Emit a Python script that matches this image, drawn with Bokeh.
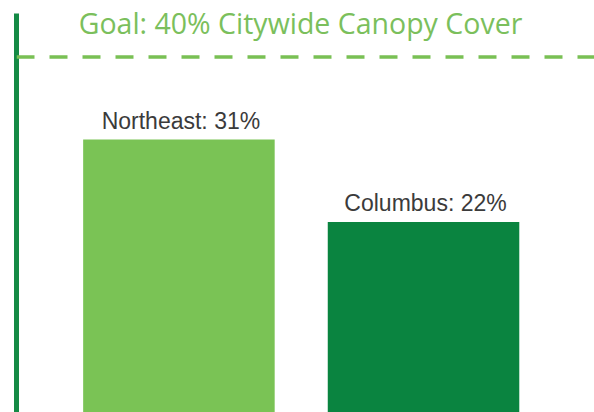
from bokeh.plotting import figure
from bokeh.models import Range1d, Span, Label, FixedTicker
from bokeh.core.properties import value
from bokeh.embed import file_html
from bokeh.resources import INLINE

# Data
areas = ["Northeast", "Columbus"]
canopy_pct = [31, 22]
bar_colors = ["#7ac355", "#0a8440"]
goal_pct = 40
goal_text = "Goal: 40% Citywide Canopy Cover"

positions = list(range(len(areas)))
labels = [f"{a}: {v}%" for a, v in zip(areas, canopy_pct)]

x_start, x_end = -0.664, 1.699

p = figure(width=594, height=412,
           x_range=Range1d(x_start, x_end), y_range=Range1d(1.2, 46.18),
           output_backend="svg", toolbar_location=None, min_border=0,
           min_border_left=16)
p.xaxis.visible = False
p.grid.visible = False
p.outline_line_color = None
p.background_fill_color = "white"
p.border_fill_color = "white"

ya = p.yaxis[0]
ya.ticker = FixedTicker(ticks=[])
ya.major_tick_out = 0
ya.major_tick_in = 0
ya.minor_tick_out = 0
ya.minor_tick_in = 0
ya.major_label_text_font_size = "0px"
ya.major_label_standoff = 0
ya.axis_line_width = 5
ya.axis_line_color = "#148a45"
ya.bounds = (0, 44.76)

p.vbar(x=positions, top=canopy_pct, bottom=0, width=0.783,
       fill_color=bar_colors, line_color=None)

p.text(x=positions, y=canopy_pct, text=labels, text_align="center",
       text_baseline="alphabetic", y_offset=-19, x_offset=2,
       text_font=value("Liberation Sans"), text_font_size="23px",
       text_color="#3b3b3b")

goal_line = Span(location=goal_pct, dimension="width", line_color="#79c054",
                 line_width=3.5, line_dash="18 15")
p.add_layout(goal_line)

title = Label(x=(x_start + x_end) / 2, y=goal_pct, text=goal_text,
              text_align="center", text_baseline="alphabetic", y_offset=34,
              x_offset=-5,
              text_font="Open Sans", text_font_size="28.5px",
              text_color="#7bbf5c")
p.add_layout(title)

open("out.html", "w").write(file_html(p, INLINE))
